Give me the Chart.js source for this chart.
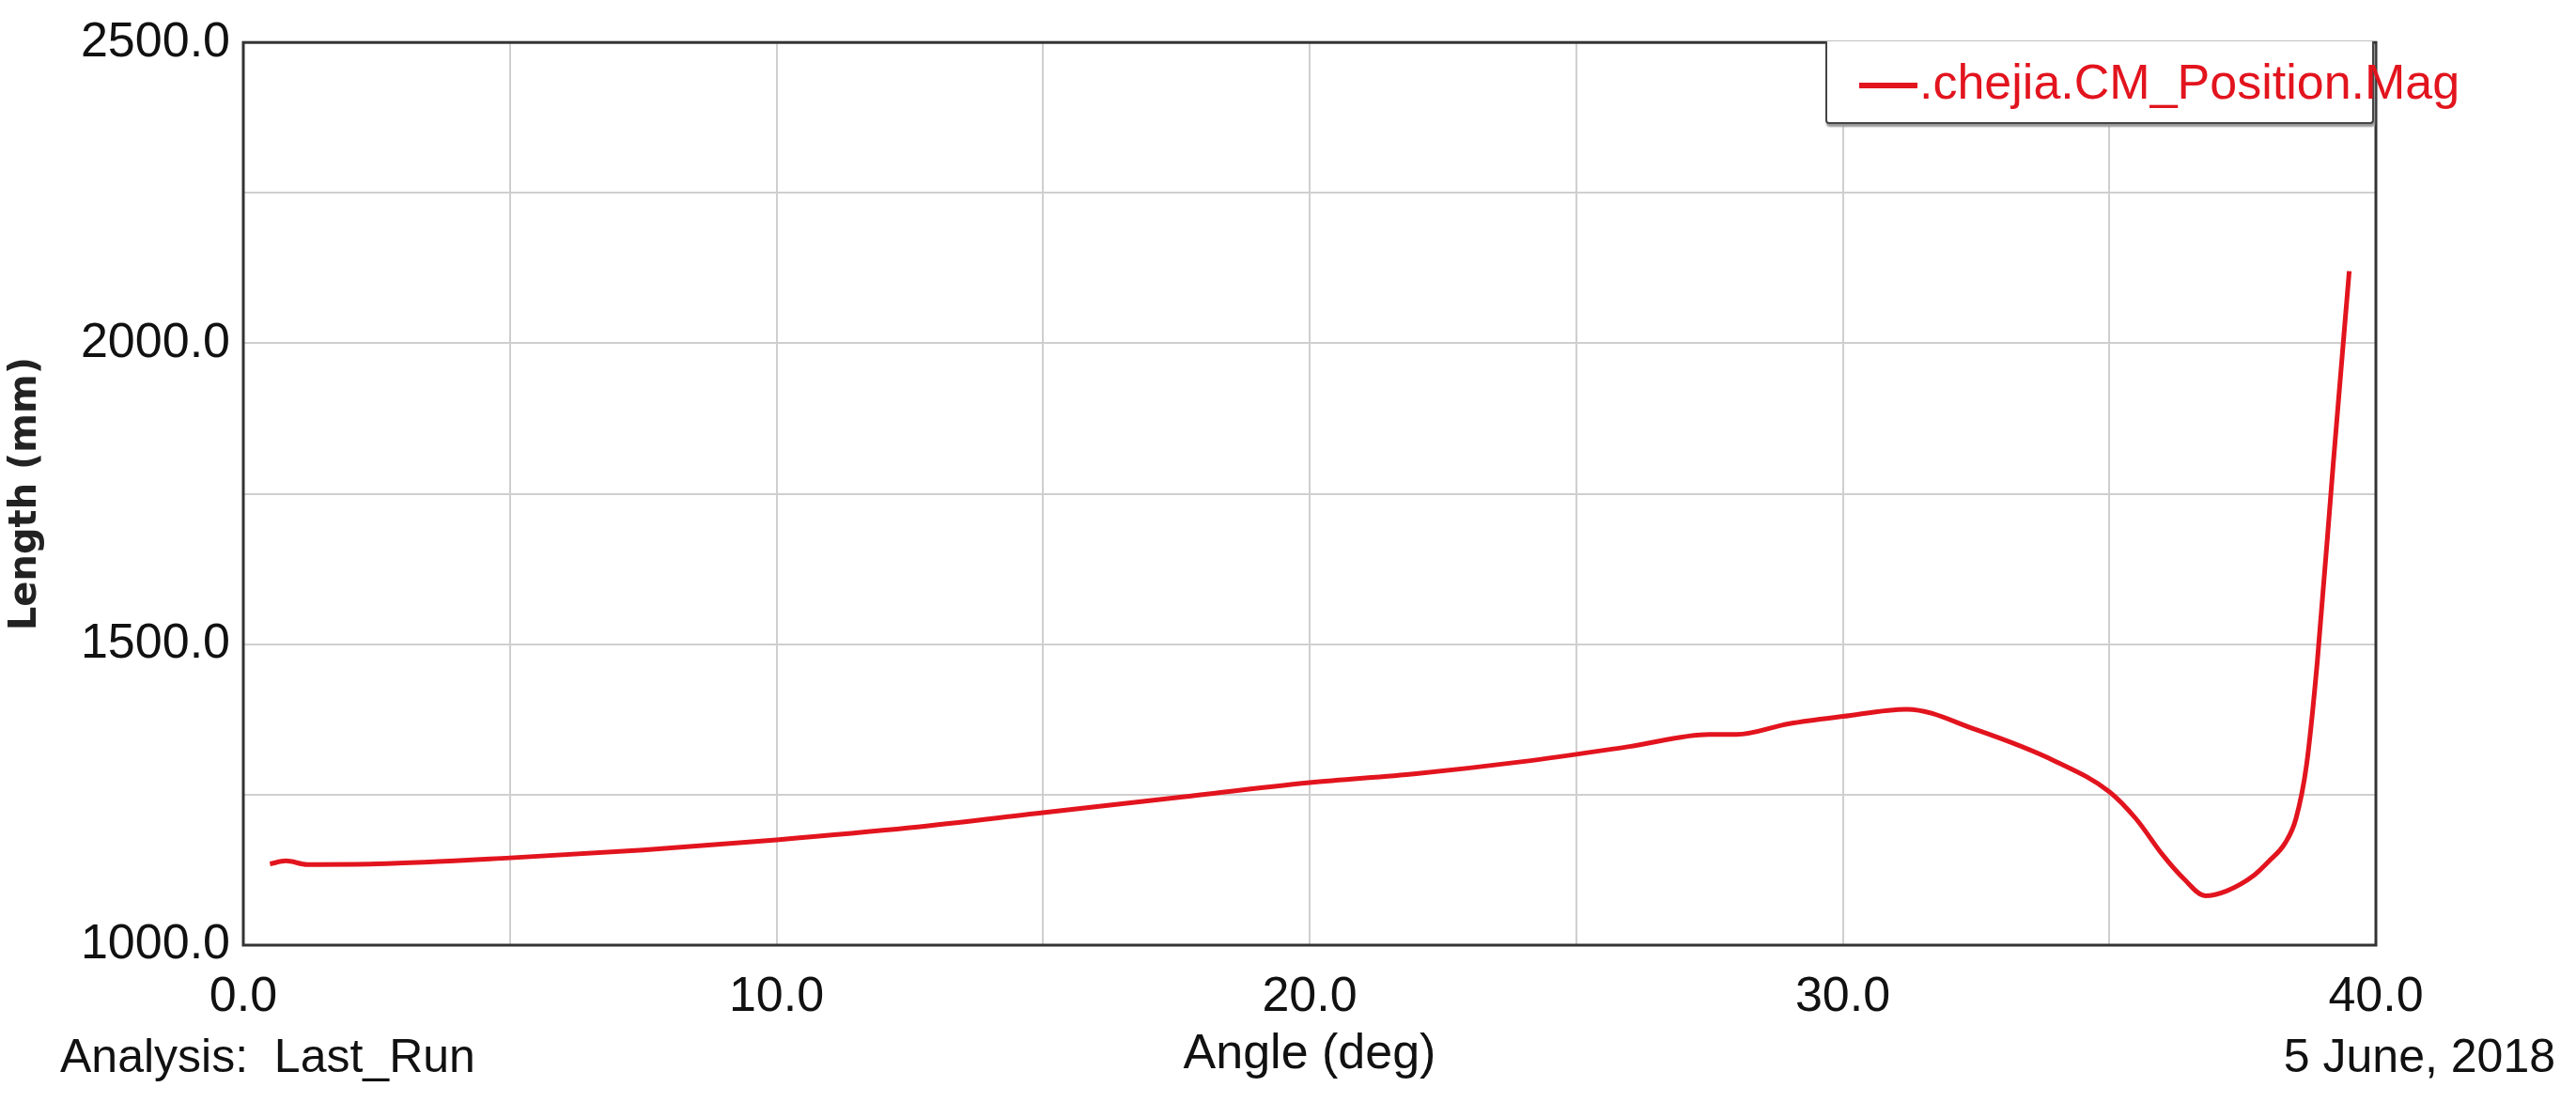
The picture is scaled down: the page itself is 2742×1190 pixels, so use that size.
<!DOCTYPE html>
<html>
<head>
<meta charset="utf-8">
<script src="https://cdn.jsdelivr.net/npm/chart.js@4"></script>
<style>
  body { margin: 0; background: #fff; font-family: "Liberation Sans Narrow", "Liberation Sans", Arial, sans-serif; }
  #wrap { position: relative; width: 2742px; height: 1190px; }
  .note { position: absolute; font-size: 50px; line-height: 60px; color: #111; top: 1094px; }
  #legend { position: absolute; left: 1943px; top: 44px; width: 584px; height: 88px;
    border: 2px solid #444; border-top: none; border-radius: 0 0 4px 4px; background: #fff;
    box-shadow: 1px 3px 2px #999; color: #e2141e; font-size: 52px; line-height: 86px; box-sizing: border-box; white-space: nowrap; }
  #legend span.swatch { display: inline-block; width: 62px; height: 6px; background: #e2141e; margin: 0 2px 0 34px; vertical-align: middle; }
</style>
</head>
<body>
<div id="wrap">
  <canvas id="chart" width="2742" height="1190"></canvas>
  <div id="legend"></div>
  <div class="note" style="left:64px">Analysis:&nbsp; Last_Run</div>
  <div class="note" style="right:22px">5 June, 2018</div>
</div>
<script>
// Data
const seriesLabel = '.chejia.CM_Position.Mag';
const angles = [0.5, 0.8, 1.2, 2.5, 5, 7.5, 10, 12.5, 15, 17.5, 20, 22, 24, 26, 27.5, 28, 29, 30, 31.2,
  32.5, 34, 35, 35.5, 36, 36.4, 36.8, 37.2, 37.7, 38, 38.3, 38.5, 38.7, 38.9, 39.2, 39.5];
const lengths = [1135, 1140, 1134, 1135, 1145, 1158, 1175, 1195, 1220, 1245, 1270, 1285, 1305, 1330, 1350, 1350, 1368, 1380, 1392,
  1358, 1305, 1255, 1210, 1150, 1110, 1082, 1090, 1115, 1140, 1170, 1210, 1300, 1470, 1800, 2120];
const xTicksMin = 0, xTicksMax = 40;
const yTicksMin = 1000, yTicksMax = 2500;

const red = '#e2141e';
const tickFont = { family: "'Liberation Sans Narrow', 'Liberation Sans'", size: 52 };

document.getElementById('legend').innerHTML = '<span class="swatch"></span>' + seriesLabel;

// Frame around the plot area
const framePlugin = {
  id: 'frame',
  afterDraw(chart) {
    const { ctx, chartArea: a } = chart;
    ctx.save();
    ctx.strokeStyle = '#333';
    ctx.lineWidth = 3;
    ctx.strokeRect(a.left, a.top, a.right - a.left, a.bottom - a.top);
    ctx.restore();
  }
};

new Chart(document.getElementById('chart').getContext('2d'), {
  type: 'line',
  data: {
    datasets: [{
      label: seriesLabel,
      data: angles.map((a, i) => ({ x: a, y: lengths[i] })),
      borderColor: red,
      borderWidth: 5,
      pointRadius: 0,
      cubicInterpolationMode: 'monotone',
      fill: false
    }]
  },
  options: {
    responsive: false,
    animation: false,
    layout: { padding: { left: 0, right: 213, top: 44, bottom: 20 } },
    plugins: { legend: { display: false }, tooltip: { enabled: false } },
    scales: {
      x: {
        type: 'linear', min: xTicksMin, max: xTicksMax,
        afterFit: s => { s.height = 164; },
        grid: { color: '#cfcfcf', lineWidth: 2, drawTicks: false },
        border: { display: false },
        ticks: {
          stepSize: 5, padding: 24, color: '#111', autoSkip: false, maxRotation: 0,
          font: tickFont,
          callback: v => (v % 10 === 0 ? v.toFixed(1) : '')
        },
        title: { display: true, text: 'Angle (deg)', color: '#111', padding: { top: 10, bottom: 16 },
          font: tickFont }
      },
      y: {
        type: 'linear', min: yTicksMin, max: yTicksMax,
        afterFit: s => { s.width = 259; },
        grid: { color: '#cfcfcf', lineWidth: 2, drawTicks: false },
        border: { display: false },
        ticks: {
          stepSize: 250, padding: 14, color: '#111', autoSkip: false,
          font: tickFont,
          callback: v => (v % 500 === 0 ? v.toFixed(1) : '')
        },
        title: { display: true, text: 'Length (mm)', color: '#222', padding: { bottom: 6 },
          font: { family: 'DejaVu Sans', size: 40, weight: 'bold' } }
      }
    }
  },
  plugins: [framePlugin]
});
</script>
</body>
</html>
